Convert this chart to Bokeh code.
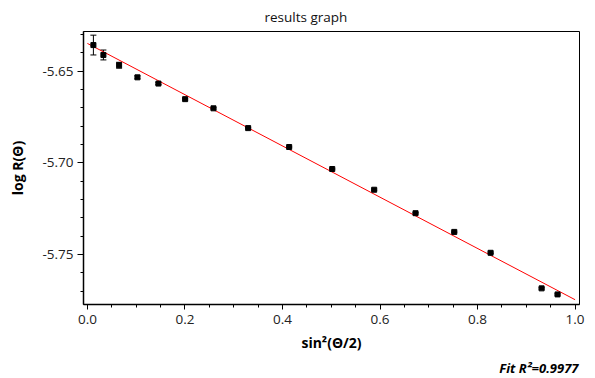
from bokeh.plotting import figure
from bokeh.models import Range1d, FixedTicker, Whisker, ColumnDataSource, TeeHead, Title
from bokeh.embed import file_html
from bokeh.resources import INLINE

# ---- data ----
sin2_half_theta = [0.0123, 0.0328, 0.0650, 0.1026, 0.1456, 0.2004, 0.2585, 0.3296,
                   0.4137, 0.5020, 0.5880, 0.6728, 0.7522, 0.8267, 0.9313, 0.9640]
log_R = [-5.6358, -5.6412, -5.6468, -5.6534, -5.6568, -5.6653, -5.6703, -5.6811,
         -5.6914, -5.7034, -5.7147, -5.7275, -5.7377, -5.7491, -5.7685, -5.7718]
log_R_err = [0.0054, 0.0027, 0.0016, 0.0008, 0.0005, 0.0005, 0.0004, 0.0004,
             0.0004, 0.0004, 0.0004, 0.0004, 0.0004, 0.0004, 0.0004, 0.0004]
fit_intercept = -5.6349
fit_slope = -0.1398
fit_x_span = [0.0, 1.0]
r_squared = 0.9977

x_ticks = [0.0, 0.2, 0.4, 0.6, 0.8, 1.0]
x_tick_labels = ["0.0", "0.2", "0.4", "0.6", "0.8", "1.0"]
x_minor = [round(i * 0.05, 2) for i in range(0, 21)]
y_ticks = [-5.75, -5.70, -5.65]
y_tick_labels = ["-5.75", "-5.70", "-5.65"]
y_minor = [round(-5.77 + i * 0.01, 2) for i in range(0, 15)]

FONT = "Open Sans"
W, H = 595, 378
LB, RB, TB, BB = 83, 16, 30, 72

xr = Range1d(-0.008, 1.009)
yr = Range1d(-5.7773, -5.6284)

p = figure(width=W, height=H, x_range=xr, y_range=yr, output_backend="svg",
           toolbar_location=None, min_border_left=LB, min_border_right=RB,
           min_border_top=TB, min_border_bottom=BB)
p.title = Title(text="results graph", align="left", offset=181, standoff=11,
                text_font=FONT, text_font_size="13.5px", text_font_style="normal",
                text_color="#111111")
p.grid.visible = False
p.outline_line_color = "black"
p.outline_line_width = 1
p.background_fill_color = "white"
p.border_fill_color = "white"

for ax in (p.xaxis[0], p.yaxis[0]):
    ax.axis_line_color = "black"
    ax.axis_line_width = 1.5
    ax.major_tick_line_color = "black"
    ax.minor_tick_line_color = "black"
    ax.major_tick_in = 0
    ax.minor_tick_in = 0
    ax.major_label_text_font = FONT
    ax.major_label_text_font_size = "13.5px"
    ax.major_label_text_color = "#222222"
    ax.axis_label_text_font = FONT
    ax.axis_label_text_font_style = "bold"
    ax.axis_label_text_font_size = "14px"
    ax.axis_label_text_color = "black"

p.xaxis.ticker = FixedTicker(ticks=x_ticks, minor_ticks=x_minor)
p.xaxis.major_label_overrides = dict(zip(x_ticks, x_tick_labels))
p.xaxis.major_tick_out = 5
p.xaxis.minor_tick_out = 3
p.xaxis.major_label_standoff = 5
p.xaxis.axis_label = "sin²(Θ/2)"
p.xaxis.axis_label_standoff = 6

p.yaxis.ticker = FixedTicker(ticks=y_ticks, minor_ticks=y_minor)
p.yaxis.major_label_overrides = dict(zip(y_ticks, y_tick_labels))
p.yaxis.major_tick_out = 6
p.yaxis.minor_tick_out = 3
p.yaxis.major_label_standoff = 4
p.yaxis.axis_label = "log R(Θ)"
p.yaxis.axis_label_standoff = 12

# fit line
fit_y = [fit_intercept + fit_slope * x for x in fit_x_span]
p.line(fit_x_span, fit_y, line_color="red", line_width=1)

# data with error bars
src = ColumnDataSource(dict(
    x=sin2_half_theta, y=log_R,
    lo=[v - e for v, e in zip(log_R, log_R_err)],
    hi=[v + e for v, e in zip(log_R, log_R_err)],
))
p.add_layout(Whisker(source=src, base="x", lower="lo", upper="hi",
                     line_color="black", line_width=1,
                     upper_head=TeeHead(size=6, line_color="black", line_width=1),
                     lower_head=TeeHead(size=6, line_color="black", line_width=1)))
p.scatter("x", "y", source=src, marker="square", size=5,
          fill_color="black", line_color="black")

fit_note = Title(text=f"Fit R²={r_squared}", align="right", offset=1, standoff=4,
                 text_font=FONT, text_font_size="13px", text_font_style="bold italic",
                 text_color="black")
p.add_layout(fit_note, "below")

open("out.html", "w").write(file_html(p, INLINE))
